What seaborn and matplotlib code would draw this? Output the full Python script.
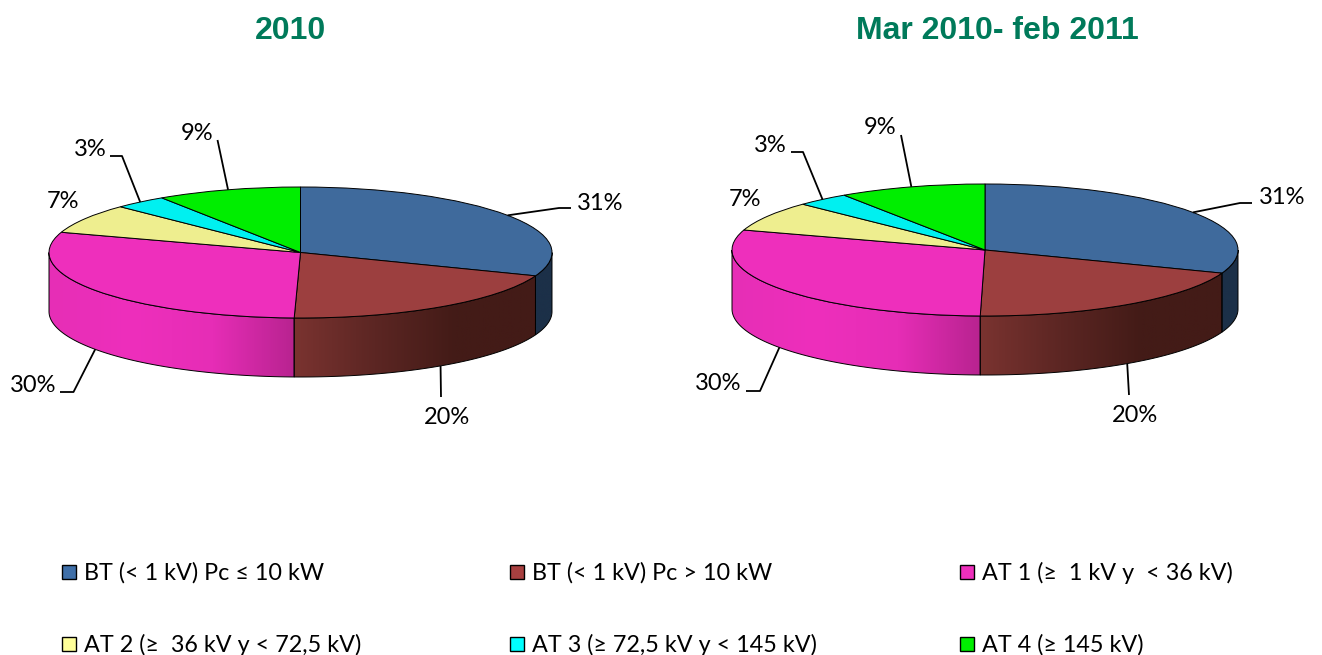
import numpy as np
import matplotlib
matplotlib.use("Agg")
import matplotlib.pyplot as plt
import seaborn as sns
from matplotlib.colors import LinearSegmentedColormap
from matplotlib.patches import Polygon, Rectangle

W, H = 1322, 655

# data (shares in %, printed labels are these rounded)
categories = ["BT (< 1 kV) Pc ≤ 10 kW", "BT (< 1 kV) Pc > 10 kW", "AT 1 (≥  1 kV y  < 36 kV)",
              "AT 2 (≥  36 kV y < 72,5 kV)", "AT 3 (≥ 72,5 kV y < 145 kV)", "AT 4 (≥ 145 kV)"]
shares_2010 = [30.8, 19.6, 29.6, 7.3, 3.4, 9.3]
shares_mar_feb = [30.7, 19.6, 29.6, 7.3, 3.4, 9.4]
titles = ["2010", "Mar 2010- feb 2011"]

top_colors = ["#3f6a9c", "#9c3f3f", "#ee2fbc", "#eeee8f", "#00f0f0", "#00ee00"]
key_colors = ["#3f6fa8", "#a84040", "#ee2fbc", "#ffff99", "#00ffff", "#00ee00"]
wall_stops = {0: ["#1c3048", "#1c3048"],
              1: ["#7a3330", "#5c2623", "#431b17", "#431b17"],
              2: ["#e62eb6", "#ee2fbc", "#e62db6", "#b82390"]}

sns.set_theme(style="white")
plt.rcParams["font.family"] = ["Lato", "DejaVu Sans"]


def rim(angle):
    t = np.radians(angle)
    return np.sin(t), np.cos(t)


def draw_pie(fig, shares, title, title_x, cx, cy, rx, ry, depth, leaders, text_pos):
    # axes placed so that the unit disc lands on the wanted ellipse
    xlim, ylim = (-1.25, 1.25), (-2.4, 1.4)
    ax = fig.add_axes([(cx + xlim[0] * rx) / W, 1 - (cy - ylim[0] * ry) / H,
                       (xlim[1] - xlim[0]) * rx / W, (ylim[1] - ylim[0]) * ry / H])
    ax.pie(shares, colors=sns.color_palette(top_colors), startangle=90, counterclock=False,
           wedgeprops={"edgecolor": "black", "linewidth": 0.7, "zorder": 5})
    d = depth / ry
    edges = np.concatenate([[0], np.cumsum(shares)]) * 3.6

    # side walls of the slices facing the viewer
    for i, stops in wall_stops.items():
        a, b = max(edges[i], 90), min(edges[i + 1], 270)
        ang = np.linspace(a, b, 80)
        xs, ys = rim(ang)
        pts = np.column_stack([np.r_[xs, xs[::-1]], np.r_[ys, ys[::-1] - d]])
        cmap = LinearSegmentedColormap.from_list(f"wall{i}", stops)
        img = ax.imshow(np.linspace(0, 1, 256)[None, :], cmap=cmap, aspect="auto", zorder=2,
                        extent=[pts[:, 0].min(), pts[:, 0].max(), pts[:, 1].min(), pts[:, 1].max()])
        poly = Polygon(pts, closed=True, facecolor="none", edgecolor="black", linewidth=0.7, zorder=3)
        ax.add_patch(poly)
        img.set_clip_path(poly)

    ax.set_aspect("auto")
    ax.set_xlim(xlim)
    ax.set_ylim(ylim)
    ax.axis("off")

    def to_data(px, py):
        return (px - cx) / rx, (cy - py) / ry

    # percentage labels and leader lines
    mids = (edges[:-1] + edges[1:]) / 2
    for i, share in enumerate(shares):
        tx, ty = to_data(*text_pos[i])
        ax.text(tx, ty, f"{round(share)}%", fontsize=17, color="black",
                ha="center", va="center", clip_on=False)
        if leaders[i] is None:
            continue
        x0, y0 = rim(mids[i])
        if 90 < mids[i] < 270:
            y0 -= d
        bends = [to_data(*p) for p in leaders[i]]
        ax.plot([x0] + [p[0] for p in bends], [y0] + [p[1] for p in bends],
                color="black", lw=1.3, zorder=6, clip_on=False, solid_capstyle="butt")

    fig.text(title_x / W, 1 - 31 / H, title, color="#007a5a", fontsize=23, fontweight="bold",
             family=["Liberation Sans"], ha="center", va="center")


def main():
    fig = plt.figure(figsize=(W / 100, H / 100), dpi=100, facecolor="white")

    draw_pie(fig, shares_2010, titles[0], 290.5, 300.5, 252.5, 251.5, 65.5, 59,
             [[(559, 208), (571, 208)], [(441, 397)], [(73.5, 392), (60, 392)], None,
              [(122, 156), (110, 156)], [(217.5, 140)]],
             [(600, 203), (447, 418), (33, 386), (63, 202), (90, 149), (197, 134)])
    draw_pie(fig, shares_mar_feb, titles[1], 997, 985, 250, 253, 66, 59,
             [[(1240, 203), (1252, 203)], [(1129, 395)], [(760, 391), (746, 391)], None,
              [(803, 152), (791, 152)], [(901, 135)]],
             [(1282, 198), (1135, 416), (718, 384), (745, 200), (770, 145), (880, 127)])

    # legend, three columns on two rows
    col_x = [62, 510, 960]
    row_y = [572, 644]
    for i, label in enumerate(categories):
        x, y = col_x[i % 3], row_y[i // 3]
        fig.add_artist(Rectangle((x / W, 1 - (y + 7) / H), 14 / W, 14 / H, transform=fig.transFigure,
                                 facecolor=key_colors[i], edgecolor="black", linewidth=1.0))
        fig.text((x + 22) / W, 1 - (y + 1) / H, label, fontsize=16.8, color="black", ha="left", va="center")

    fig.savefig("out.png", dpi=100)


if __name__ == "__main__":
    main()
